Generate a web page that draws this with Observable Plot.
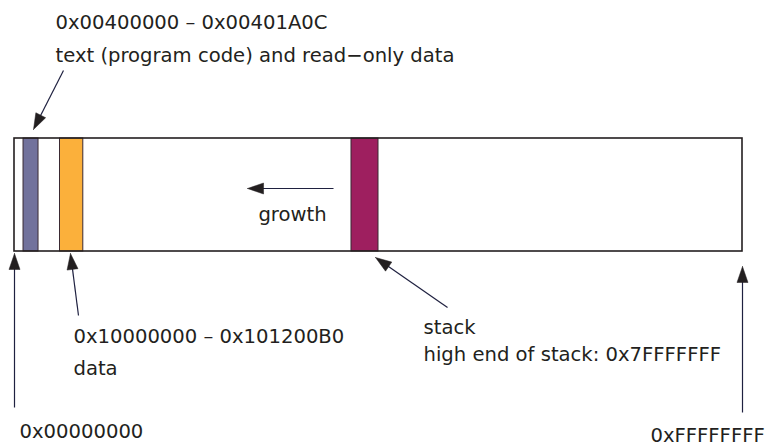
<!DOCTYPE html>
<html>
<head>
<meta charset="utf-8">
<script src="https://cdn.jsdelivr.net/npm/d3@7"></script>
<script src="https://cdn.jsdelivr.net/npm/@observablehq/plot@0.6"></script>
<style>
  html, body { margin: 0; padding: 0; background: #fff; }
</style>
</head>
<body>
<div id="chart"></div>
<script>
// ---- data (x values are fractions of the 32-bit address space, schematic) ----
const segmentNames = ["text", "data", "stack"];
const segmentFrom  = [0.0124, 0.0625, 0.4629];
const segmentTo    = [0.0330, 0.0945, 0.5000];

const textLines  = ["0x00400000 \u2013 0x00401A0C", "text (program code) and read\u2212only data"];
const dataLines  = ["0x10000000 \u2013 0x101200B0", "data"];
const stackLines = ["stack", "high end of stack: 0x7FFFFFFF"];
const lowAddress  = "0x00000000";
const highAddress = "0xFFFFFFFF";
const growthLabel = "growth";

// ---- layout / style ----
const segColors = ["#72729c", "#fbb03b", "#9e1f5f"];
const ink = "#231f20";
const shaft = "#1f2140";
const barTop = 138, barBottom = 251;
const fs = 19.6;

const xScale = Plot.scale({x: {domain: [0, 1], range: [14, 742]}});

const arrows = [
  {x1: 0.0673, y1: 70,  x2: 0.0261, y2: 129},  // to text segment
  {x1: 0.4382, y1: 188, x2: 0.3201, y2: 188},  // growth
  {x1: 0,      y1: 407, x2: 0,      y2: 253},  // 0x00000000
  {x1: 0.0879, y1: 315, x2: 0.0769, y2: 253},  // data
  {x1: 0.5948, y1: 307, x2: 0.4959, y2: 257},  // stack
  {x1: 1,      y1: 412, x2: 1,      y2: 266}   // 0xFFFFFFFF
];
const headLen = 16, headHalf = 5.5;
const shafts = [], heads = [];
arrows.forEach((a, i) => {
  const tx = xScale.apply(a.x2), ty = a.y2;
  const sx = xScale.apply(a.x1), sy = a.y1;
  const dx = tx - sx, dy = ty - sy, len = Math.hypot(dx, dy);
  const ux = dx / len, uy = dy / len;
  const bx = tx - ux * headLen, by = ty - uy * headLen;
  shafts.push({x1: a.x1, y1: a.y1, x2: xScale.invert(bx + ux * 2), y2: by + uy * 2});
  const pts = [[tx, ty], [bx - uy * headHalf, by + ux * headHalf], [bx + uy * headHalf, by - ux * headHalf], [tx, ty]];
  pts.forEach(([px, py]) => heads.push({id: i, x: xScale.invert(px), y: py}));
});

const segments = segmentNames.map((n, i) => ({name: n, x1: segmentFrom[i], x2: segmentTo[i], color: segColors[i]}));

const labels = [
  {t: textLines[0],  x: 0.0563, y: 28},
  {t: textLines[1],  x: 0.0563, y: 61},
  {t: dataLines[0],  x: 0.0810, y: 342},
  {t: dataLines[1],  x: 0.0810, y: 374},
  {t: stackLines[0], x: 0.5618, y: 333},
  {t: stackLines[1], x: 0.5618, y: 360},
  {t: lowAddress,    x: 0.0069, y: 437},
  {t: highAddress,   x: 0.8736, y: 441}
];

const chart = Plot.plot({
  width: 775,
  height: 446,
  marginTop: 0, marginRight: 0, marginBottom: 0, marginLeft: 0,
  x: {domain: [0, 1], range: [14, 742], axis: null},
  y: {domain: [0, 446], range: [0, 446], axis: null},
  style: {fontFamily: "DejaVu Sans", fontSize: fs + "px", background: "#fff", color: ink},
  marks: [
    Plot.rect([{x1: 0, x2: 1}], {x1: "x1", x2: "x2", y1: barTop, y2: barBottom, fill: "#fff"}),
    Plot.rect(segments, {x1: "x1", x2: "x2", y1: barTop, y2: barBottom, fill: "color", stroke: "#3a2a33", strokeWidth: 1}),
    Plot.rect([{x1: 0, x2: 1}], {x1: "x1", x2: "x2", y1: barTop, y2: barBottom, fill: "none", stroke: ink, strokeWidth: 1.6}),
    Plot.link(shafts, {x1: "x1", y1: "y1", x2: "x2", y2: "y2", stroke: shaft, strokeWidth: 1.2}),
    Plot.line(heads, {x: "x", y: "y", z: "id", fill: ink, stroke: ink, strokeWidth: 0.5}),
    Plot.text(labels, {x: "x", y: "y", text: "t", textAnchor: "start", lineAnchor: "bottom", fill: ink, fontSize: fs}),
    Plot.text([growthLabel], {x: 0.3819, y: 220, text: d => d, textAnchor: "middle", lineAnchor: "bottom", fill: ink, fontSize: fs})
  ]
});
document.getElementById("chart").appendChild(chart);
</script>
</body>
</html>
